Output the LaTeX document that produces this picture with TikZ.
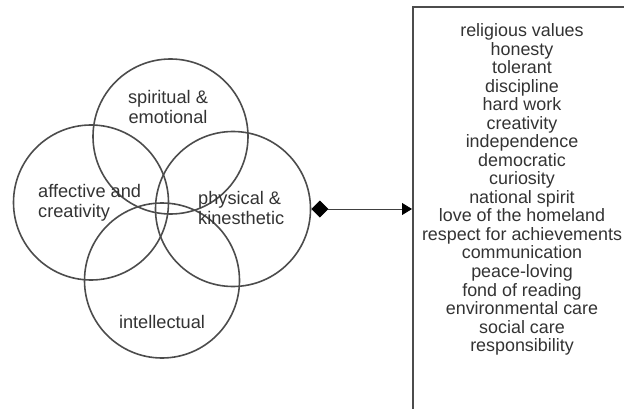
\documentclass[tikz,border=0pt]{standalone}
\usepackage{fontspec}
\setmainfont{Liberation Sans}
\usetikzlibrary{arrows.meta}

\begin{document}
\begin{tikzpicture}[x=1pt,y=-1pt,
    ring/.style={circle,draw=black!70,line width=1.6pt,minimum size=155pt,inner sep=0pt},
    lbl/.style={text=black!80,font=\fontsize{18.2}{20}\selectfont,align=left,inner sep=0pt}]
                \clip (0,0) rectangle (624,409);
                \node (spirit) at (170.5,136.5) [ring] {};
                \node (affect) at (91,202.5) [ring] {};
                \node (phys) at (233,209) [ring] {};
                \node (intel) at (162,280.5) [ring] {};

                \node (tspirit) at (168,107) [lbl,align=center] {spiritual \&\\emotional};
                \node (taffect) at (38,202.5) [lbl,anchor=west] {affective and\\creativity};
                \node (tphys) at (198,208) [lbl,anchor=west] {physical \&\\kinesthetic};
                \node (tintel) at (162,322) [lbl] {intellectual};

                \node (box) at (412,6) [draw=black!70,line width=1.6pt,anchor=north west,minimum width=222pt,minimum height=420pt] {};
                \node (values) at (522,189.5) [lbl,align=center,font=\fontsize{17.9}{18.53}\selectfont] {religious values\\honesty\\tolerant\\discipline\\hard work\\creativity\\independence\\democratic\\curiosity\\national spirit\\love of the homeland\\respect for achievements\\communication\\peace-loving\\fond of reading\\environmental care\\social care\\responsibility};

                \draw[black!75,line width=0.8pt,{Diamond[length=17pt,width=17pt,color=black]}-{Triangle[length=10pt,width=12pt,color=black]}] (phys.east) -- (phys.east -| box.west);

            \end{tikzpicture}
\end{document}
